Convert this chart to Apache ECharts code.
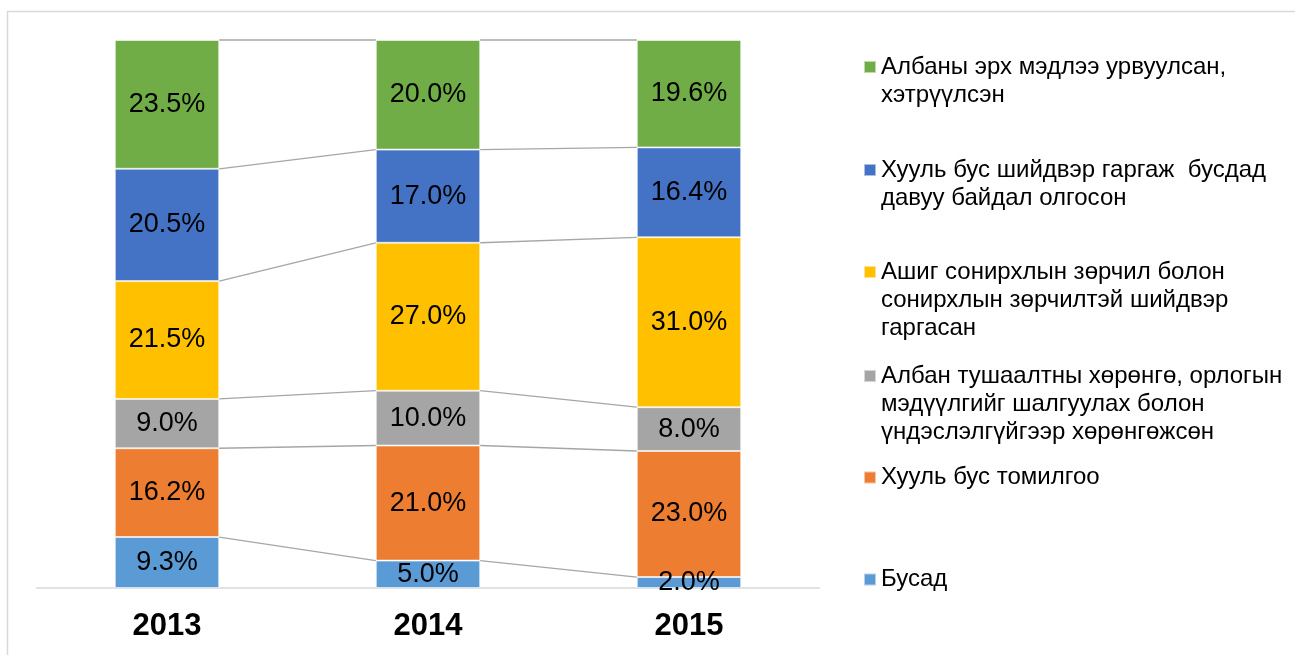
<!DOCTYPE html>
<html>
<head>
<meta charset="utf-8">
<title>Stacked columns 2013-2015</title>
<script src="https://cdn.jsdelivr.net/npm/echarts@6/dist/echarts.min.js"></script>
<style>
  html, body { margin: 0; padding: 0; background: #fff; }
  #chart { width: 1295px; height: 655px; }
</style>
</head>
<body>
<div id="chart"></div>
<script>
// categories
const years = ['2013', '2014', '2015'];

// series, bottom of the stack first
const seriesNames = [
  'Бусад',
  'Хууль бус томилгоо',
  'Албан тушаалтны хөрөнгө, орлогын мэдүүлгийг шалгуулах болон үндэслэлгүйгээр хөрөнгөжсөн',
  'Ашиг сонирхлын зөрчил болон сонирхлын зөрчилтэй шийдвэр гаргасан',
  'Хууль бус шийдвэр гаргаж  бусдад давуу байдал олгосон',
  'Албаны эрх мэдлээ урвуулсан, хэтрүүлсэн'
];
// how the legend wraps each name
const legendLines = [
  ['Бусад'],
  ['Хууль бус томилгоо'],
  ['Албан тушаалтны хөрөнгө, орлогын', 'мэдүүлгийг шалгуулах болон', 'үндэслэлгүйгээр хөрөнгөжсөн'],
  ['Ашиг сонирхлын зөрчил болон', 'сонирхлын зөрчилтэй шийдвэр', 'гаргасан'],
  ['Хууль бус шийдвэр гаргаж  бусдад', 'давуу байдал олгосон'],
  ['Албаны эрх мэдлээ урвуулсан,', 'хэтрүүлсэн']
];
const colors = ['#5B9BD5', '#ED7D31', '#A5A5A5', '#FFC000', '#4472C4', '#70AD47'];

// percent values per year
const busad      = [9.3, 5.0, 2.0];
const tomilgoo   = [16.2, 21.0, 23.0];
const horongo    = [9.0, 10.0, 8.0];
const ashig      = [21.5, 27.0, 31.0];
const shiidver   = [20.5, 17.0, 16.4];
const erhMedel   = [23.5, 20.0, 19.6];
const values = [busad, tomilgoo, horongo, ashig, shiidver, erhMedel];

const chart = echarts.init(document.getElementById('chart'));

// running tops of every segment, used for the connector lines
const cumTops = [];
values.forEach((arr, s) => {
  cumTops.push(arr.map((v, i) => (s ? cumTops[s - 1][i] : 0) + v));
});
const connectorData = [];
cumTops.forEach(tops => {
  for (let i = 0; i < years.length - 1; i++) {
    connectorData.push([i, tops[i], tops[i + 1]]);
  }
});

const barSeries = values.map((arr, s) => ({
  type: 'bar',
  name: seriesNames[s],
  stack: 'total',
  barWidth: '40%',
  data: arr,
  itemStyle: { color: colors[s], borderColor: 'rgba(255,255,255,0.55)', borderWidth: 1 },
  label: {
    show: true,
    position: 'inside',
    color: '#000',
    fontSize: 27,
    fontFamily: 'Liberation Sans, Arial, sans-serif',
    padding: [3, 0, 0, 0],
    formatter: p => p.value.toFixed(1) + '%'
  },
  emphasis: { disabled: true }
}));

const connectorSeries = {
  type: 'custom',
  name: 'connectors',
  silent: true,
  z: 1,
  encode: { x: 0, y: 1 },
  data: connectorData,
  renderItem: (params, api) => {
    const i = api.value(0);
    const p1 = api.coord([i, api.value(1)]);
    const p2 = api.coord([i + 1, api.value(2)]);
    const half = api.size([1, 0])[0] * 0.2;
    return {
      type: 'line',
      shape: { x1: p1[0] + half, y1: p1[1], x2: p2[0] - half, y2: p2[1] },
      style: { stroke: '#a6a6a6', lineWidth: 1.3 }
    };
  }
};

// one legend per item; blank lines in front keep the icon on the first text line
const LINE_H = 28;
const legendCenters = [579.5, 477.5, 376, 272, 170, 67];
const legends = seriesNames.map((name, s) => {
  const n = legendLines[s].length;
  const blanks = new Array(n - 1).fill('');
  return {
    orient: 'vertical',
    left: 863,
    top: legendCenters[s] - (2 * n - 1) * LINE_H / 2,
    padding: 0,
    itemWidth: 12,
    itemHeight: 12,
    itemGap: 0,
    icon: 'rect',
    selectedMode: false,
    data: [name],
    formatter: () => blanks.concat(legendLines[s]).join('\n'),
    textStyle: {
      color: '#000',
      fontSize: 24,
      lineHeight: LINE_H,
      fontFamily: 'Liberation Sans, Arial, sans-serif'
    }
  };
});

chart.setOption({
  animation: false,
  grid: { left: 36.5, right: 475.5, top: 40, bottom: 67 },
  legend: legends,
  xAxis: {
    type: 'category',
    data: years,
    axisLine: { lineStyle: { color: '#d9d9d9', width: 1.5 } },
    axisTick: { show: false },
    axisLabel: {
      color: '#000',
      fontSize: 31,
      fontWeight: 'bold',
      fontFamily: 'Liberation Sans, Arial, sans-serif',
      margin: 23
    }
  },
  yAxis: {
    type: 'value',
    min: 0,
    max: 100,
    show: false,
    splitLine: { show: false }
  },
  graphic: [{
    type: 'rect',
    silent: true,
    shape: { x: 7.5, y: 11.5, width: 1300, height: 660 },
    style: { fill: 'none', stroke: '#d9d9d9', lineWidth: 1.5 }
  }],
  series: barSeries.concat([connectorSeries])
});
</script>
</body>
</html>
